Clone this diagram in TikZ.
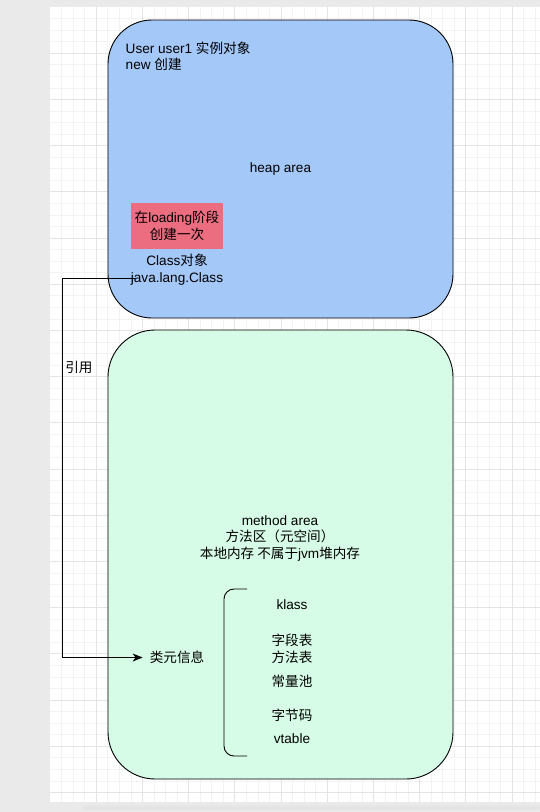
\documentclass[tikz,border=0pt]{standalone}
\usepackage{fontspec}
\setmainfont{Liberation Sans}
\newfontfamily\cjk{Noto Sans CJK SC}
\newcommand{\zh}[1]{{\cjk #1}}
\usetikzlibrary{arrows.meta}
\definecolor{memblue}{RGB}{164,200,248}
\definecolor{memgreen}{RGB}{214,251,230}
\definecolor{memred}{RGB}{236,108,128}
\definecolor{memback}{RGB}{234,234,234}
\definecolor{memgmin}{RGB}{243,243,243}
\definecolor{memgmaj}{RGB}{228,228,228}
\tikzset{
  memarea/.style={draw=black,line width=0.9pt,rounded corners=44pt,minimum width=345pt},
  memheap/.style={memarea,fill=memblue,minimum height=298pt},
  memmeth/.style={memarea,fill=memgreen,minimum height=449pt,rounded corners=47pt},
  memload/.style={fill=memred,minimum width=92pt,minimum height=46pt,align=center,inner sep=0pt},
  memlab/.style={align=center,inner sep=2pt},
  memref/.style={line width=0.9pt,shorten >=5pt,-{Stealth[length=10pt,width=8pt,inset=3pt]}},
  membrack/.style={line width=0.9pt,rounded corners=10pt},
  gridmin/.style={memgmin,line width=0.7pt},
  gridmaj/.style={memgmaj,line width=0.7pt},
}

\begin{document}
\begin{tikzpicture}[x=1pt,y=-1pt,font=\fontsize{13.6}{16.5}\selectfont]
% ---- canvas: gray surround, white page with the grid
\useasboundingbox (0,0) rectangle (540,812);
\fill[memback] (0,0) rectangle (540,812);
\fill[white] (50,7) rectangle (540,802);
\foreach \i in {1,...,42}
  \draw[gridmin] ({50+11.55*\i},7) -- ({50+11.55*\i},802);
\foreach \i in {1,...,68}
  \draw[gridmin] (50,{7+11.55*\i}) -- (540,{7+11.55*\i});
\foreach \i in {4,8,...,40}
  \draw[gridmaj] ({50+11.55*\i},7) -- ({50+11.55*\i},802);
\foreach \i in {4,8,...,68}
  \draw[gridmaj] (50,{7+11.55*\i}) -- (540,{7+11.55*\i});
\fill[memgmaj,rounded corners=2pt] (83,805.5) rectangle (540,810);
% ---- heap area
\node[memheap] (heap) at (280.5,169) {heap area};
\node[memlab,anchor=west,align=left] (user) at (123.5,56.5) {User user1 \zh{实例对象}\\new \zh{创建}};
\node[memload] (load) at (177,226) {\zh{在}loading\zh{阶段}\\\zh{创建一次}};
\node[memlab] (classobj) at (177,269.5) {Class\zh{对象}\\java.lang.Class};
% ---- method area
\node[memmeth] (meth) at (280.5,554.5) {};
\node[memlab] (methtxt) at (280,538) {method area\\\zh{方法区（元空间）}\\\zh{本地内存 不属于}jvm\zh{堆内存}};
\node[memlab] (meta) at (177,657.5) {\zh{类元信息}};
\draw[membrack] (247,589) -- (224,589) -- (224,756) -- (247,756);
\node[memlab] (klass) at (292,605) {klass};
\node[memlab] (fields) at (292,640) {\zh{字段表}};
\node[memlab] (methods) at (292,657) {\zh{方法表}};
\node[memlab] (pool) at (292,681) {\zh{常量池}};
\node[memlab] (bytecode) at (292,715) {\zh{字节码}};
\node[memlab] (vtable) at (292,739) {vtable};
% ---- reference from the Class object down to the class metadata
\coordinate (refstart) at (135,278);
\draw[memref] (refstart) -- (62,278) |- (meta.west);
\node[memlab] (reflab) at (79,367) {\zh{引用}};
\end{tikzpicture}
\end{document}
